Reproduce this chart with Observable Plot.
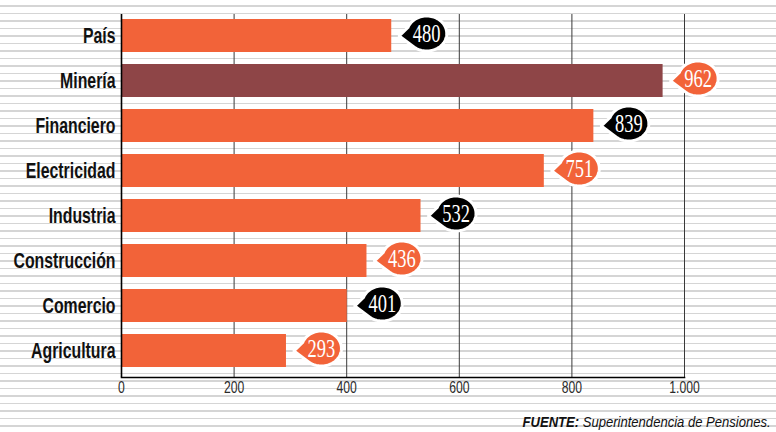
<!DOCTYPE html>
<html>
<head>
<meta charset="utf-8">
<script src="https://cdn.jsdelivr.net/npm/d3@7"></script>
<script src="https://cdn.jsdelivr.net/npm/@observablehq/plot@0.6"></script>
<style>
  html, body { margin: 0; padding: 0; }
  body {
    width: 776px; height: 432px; overflow: hidden;
    background-color: #fff;
    background-image: repeating-linear-gradient(to bottom,
      rgba(0,0,0,0) 0px, rgba(0,0,0,0) 5.25px,
      #d5d5d5 5.25px, #d5d5d5 6.75px,
      rgba(0,0,0,0) 6.75px, rgba(0,0,0,0) 7.5px);
  }
  #wrap { position: relative; width: 776px; height: 432px; }
  #caption {
    position: absolute; right: 5px; top: 415px;
    font-family: "Liberation Sans", Arial, sans-serif; font-size: 14.5px; line-height: 14.5px;
    font-style: italic; color: #111; white-space: nowrap;
    transform: scaleX(0.9); transform-origin: right center;
  }
  #caption b { font-weight: bold; }
</style>
</head>
<body>
<div id="wrap"></div>
<script>
const categories = ["País", "Minería", "Financiero", "Electricidad", "Industria", "Construcción", "Comercio", "Agricultura"];
const values = [480, 962, 839, 751, 532, 436, 401, 293];
const xTicks = [0, 200, 400, 600, 800, 1000];
const xTickLabels = ["0", "200", "400", "600", "800", "1.000"];
const highlighted = "Minería";
const captionSource = "FUENTE:";
const captionText = "Superintendencia de Pensiones.";

const ORANGE = "#F26339";
const MAROON = "#8E4547";
const BLACK = "#000000";

const data = categories.map((name, i) => ({
  name,
  value: values[i],
  barColor: name === highlighted ? MAROON : ORANGE,
  bubbleColor: i % 2 === 0 ? BLACK : ORANGE
}));
const ticks = xTicks.map((v, i) => ({v, label: xTickLabels[i]}));

// speech-bubble symbol: ellipse with a pointer to the left
const bubble = {
  draw(ctx) {
    const rx = 20, ry = 17.5;
    const a0 = 200 * Math.PI / 180, a1 = 485 * Math.PI / 180;
    ctx.moveTo(-27.5, 2.5);
    const N = 72;
    for (let k = 0; k <= N; k++) {
      const a = a0 + (a1 - a0) * k / N;
      ctx.lineTo(rx * Math.cos(a), ry * Math.sin(a));
    }
    ctx.closePath();
  }
};

const plot = Plot.plot({
  width: 776,
  height: 406,
  marginLeft: 121,
  marginRight: 92,
  marginTop: 14,
  marginBottom: 29,
  style: {background: "transparent", overflow: "visible"},
  x: {domain: [0, 1000], axis: null},
  y: {domain: categories, range: [12.4, 373.6], paddingInner: 0.27, paddingOuter: 0.135, axis: null},
  color: {type: "identity"},
  marks: [
    Plot.ruleX(xTicks.slice(1), {stroke: "#3a3a3a", strokeWidth: 1}),
    Plot.barX(data, {x: "value", y: "name", fill: "barColor"}),
    Plot.ruleX([0], {stroke: "#000", strokeWidth: 1.6}),
    Plot.frame({anchor: "bottom", stroke: "#000", strokeWidth: 1.6}),
    Plot.text(data, {
      y: "name", text: "name", frameAnchor: "left", textAnchor: "end", dx: -6,
      fontFamily: "Liberation Sans, Arial, sans-serif", fontWeight: "bold", fontSize: 22, fill: "#111"
    }),
    Plot.dot(data, {
      x: "value", y: "name", dx: 35, dy: -2.5, symbol: bubble, r: 18,
      fill: "bubbleColor", stroke: "#fff", strokeWidth: 3, strokeLinejoin: "round"
    }),
    Plot.text(data, {
      x: "value", y: "name", text: d => String(d.value), dx: 35, dy: -2.5,
      fontFamily: "Liberation Serif, Times New Roman, serif", fontSize: 25, fill: "#fff"
    }),
    Plot.text(ticks, {
      x: "v", text: "label", frameAnchor: "bottom", dy: 15.5,
      fontFamily: "Liberation Sans, Arial, sans-serif", fontSize: 16, fill: "#2a2a2a"
    })
  ]
});

// condense glyphs horizontally (the reference uses condensed typefaces)
const textGroups = Array.from(plot.querySelectorAll("g[aria-label='text']"));
const squeezes = [0.72, 0.74, 0.76];
textGroups.forEach((g, gi) => {
  const sx = squeezes[gi] ?? 1;
  g.querySelectorAll("text").forEach(node => {
    const xa = node.getAttribute("x");
    const x = xa !== null && !isNaN(+xa) ? +xa : 0;
    if (xa !== null && !isNaN(+xa)) node.removeAttribute("x");
    const t = node.getAttribute("transform") || "";
    node.setAttribute("transform", `${t} translate(${x},0) scale(${sx},1)`);
  });
});

const wrap = document.getElementById("wrap");
wrap.appendChild(plot);
const cap = document.createElement("div");
cap.id = "caption";
const b = document.createElement("b");
b.textContent = captionSource;
cap.appendChild(b);
cap.appendChild(document.createTextNode(" " + captionText));
wrap.appendChild(cap);
</script>
</body>
</html>
